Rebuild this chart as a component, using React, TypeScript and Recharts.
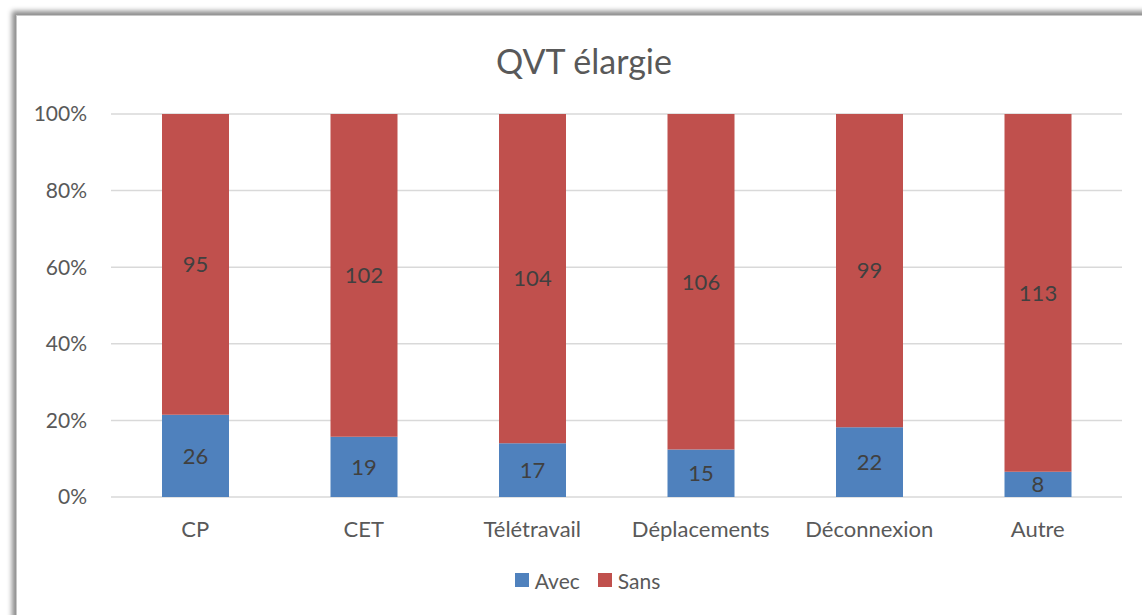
import React from "react";
import { BarChart, Bar, XAxis, YAxis, CartesianGrid, Legend, LabelList } from "recharts";

const categories = ["CP", "CET", "Télétravail", "Déplacements", "Déconnexion", "Autre"];
const avecValues = [26, 19, 17, 15, 22, 8];
const sansValues = [95, 102, 104, 106, 99, 113];
const yTicks = [0, 0.2, 0.4, 0.6, 0.8, 1];
const seriesNames = ["Avec", "Sans"];
const seriesColors = ["#4F81BD", "#C0504D"];

const data = categories.map((c, i) => ({ name: c, Avec: avecValues[i], Sans: sansValues[i] }));

const FONT = "Lato, 'Open Sans', sans-serif";

const LegendContent = () => (
  <div style={{ display: "flex", justifyContent: "center", paddingLeft: 36, height: 30, alignItems: "center" }}>
    {seriesNames.map((n, i) => (
      <div key={n} style={{ display: "flex", alignItems: "center", marginRight: i === 0 ? 18 : 0 }}>
        <div style={{ width: 14, height: 14, background: seriesColors[i], marginRight: 6 }} />
        <span style={{ fontSize: 21, color: "#595959", fontFamily: FONT }}>{n}</span>
      </div>
    ))}
  </div>
);

export default function App() {
  return (
    <div style={{ position: "fixed", left: 0, top: 0, width: 1142, height: 615, background: "#fff", overflow: "hidden", fontFamily: FONT }}>
      <div
        style={{
          position: "absolute",
          left: 16,
          top: 15,
          width: 1140,
          height: 610,
          background: "#fff",
          boxShadow: "-4px -4px 5px rgba(0,0,0,0.45)",
          borderLeft: "1px solid #c8c8c8",
          borderTop: "1px solid #c8c8c8",
        }}
      >
        <div
          style={{
            position: "absolute",
            left: 0,
            width: 1134,
            top: 24,
            textAlign: "center",
            fontSize: 34,
            color: "#595959",
            fontFamily: FONT,
          }}
        >
          QVT élargie
        </div>
        <BarChart
          width={1126}
          height={598}
          data={data}
          stackOffset="expand"
          margin={{ top: 98, right: 21, bottom: 19, left: 0 }}
        >
          <CartesianGrid vertical={false} stroke="#d9d9d9" strokeWidth={1.5} />
          <XAxis
            dataKey="name"
            axisLine={false}
            tickLine={false}
            tick={{ fill: "#595959", fontSize: 22, fontFamily: FONT }}
            tickMargin={18}
            height={68}
          />
          <YAxis
            ticks={yTicks}
            domain={[0, 1]}
            tickFormatter={(v: number) => `${Math.round(v * 100)}%`}
            axisLine={false}
            tickLine={false}
            tick={{ fill: "#595959", fontSize: 21, fontFamily: FONT }}
            tickMargin={18}
            width={94}
          />
          <Legend verticalAlign="bottom" content={LegendContent} />
          <Bar dataKey="Avec" stackId="a" fill={seriesColors[0]} barSize={67} isAnimationActive={false}>
            <LabelList dataKey="Avec" position="center" fill="#404040" fontSize={22} fontFamily={FONT} />
          </Bar>
          <Bar dataKey="Sans" stackId="a" fill={seriesColors[1]} barSize={67} isAnimationActive={false}>
            <LabelList dataKey="Sans" position="center" fill="#404040" fontSize={22} fontFamily={FONT} />
          </Bar>
        </BarChart>
      </div>
    </div>
  );
}
